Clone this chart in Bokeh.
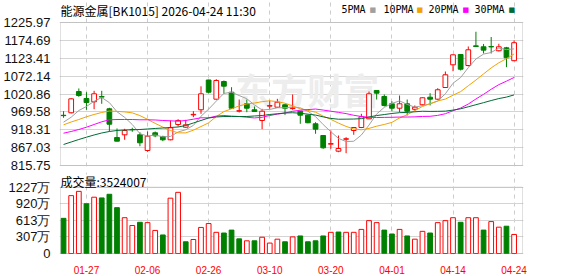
import pandas as pd
from bokeh.plotting import figure
from bokeh.layouts import column
from bokeh.models import FixedTicker, Label, Range1d, PrintfTickFormatter, BoxAnnotation
from bokeh.embed import file_html
from bokeh.resources import INLINE

# ---------------- data ----------------
dates = ["01-22", "01-23", "01-26", "01-27", "01-28", "01-29", "01-30", "02-02", "02-03", "02-04",
         "02-05", "02-06", "02-09", "02-10", "02-11", "02-12", "02-13", "02-24", "02-25", "02-26",
         "02-27", "03-02", "03-03", "03-04", "03-05", "03-06", "03-09", "03-10", "03-11", "03-12",
         "03-13", "03-16", "03-17", "03-18", "03-19", "03-20", "03-23", "03-24", "03-25", "03-26",
         "03-27", "03-30", "03-31", "04-01", "04-02", "04-03", "04-07", "04-08", "04-09", "04-10",
         "04-13", "04-14", "04-15", "04-16", "04-17", "04-20", "04-21", "04-22", "04-23", "04-24"]

opens = [959.8, 967.0, 1028.0, 1008.0, 998.5, 1013.5, 978.4, 896.0, 903.8, 919.0,
         903.8, 858.8, 909.6, 899.0, 889.5, 933.4, 925.6, 961.0, 975.6, 1061.0,
         1006.0, 1056.7, 1026.0, 971.5, 992.8, 975.6, 944.9, 986.0, 983.0, 990.0,
         979.0, 971.5, 960.1, 935.4, 901.8, 877.0, 856.8, 891.0, 916.2, 924.8,
         949.7, 1031.0, 1013.7, 992.8, 980.1, 992.8, 977.0, 990.0, 1011.7, 1006.0,
         1039.5, 1104.6, 1134.2, 1102.6, 1159.0, 1156.3, 1157.0, 1144.9, 1153.4, 1116.4]
highs = [971.5, 1009.0, 1036.7, 1026.0, 1030.0, 1030.0, 981.3, 922.0, 921.0, 924.0,
         911.3, 913.3, 913.3, 901.0, 945.0, 948.6, 946.9, 971.5, 1043.0, 1062.0,
         1063.3, 1059.6, 1040.4, 1005.0, 1005.0, 985.0, 978.4, 1002.0, 1007.0, 991.0,
         1019.5, 972.0, 961.0, 940.0, 902.5, 916.2, 901.8, 897.0, 925.0, 964.0,
         1028.0, 1032.0, 1019.5, 1000.0, 1016.6, 1005.0, 988.0, 1011.0, 1023.2, 1037.5,
         1085.4, 1134.0, 1135.0, 1157.2, 1199.4, 1164.4, 1184.4, 1165.0, 1156.0, 1174.6]
lows = [952.6, 965.0, 1012.8, 975.5, 977.3, 992.8, 913.3, 885.0, 889.5, 912.4,
        871.1, 855.0, 897.0, 885.5, 888.0, 927.6, 924.0, 954.3, 964.0, 1023.0,
        1005.0, 1021.4, 978.4, 967.8, 968.7, 970.0, 920.0, 978.4, 981.3, 961.2,
        975.6, 935.4, 937.0, 906.7, 863.7, 863.7, 853.9, 851.0, 903.8, 923.0,
        949.0, 1005.0, 985.0, 971.5, 968.7, 959.2, 973.0, 988.0, 988.0, 1004.0,
        1038.0, 1086.3, 1088.3, 1100.0, 1156.0, 1137.0, 1137.0, 1143.0, 1097.8, 1115.0]
closes = [958.8, 1007.0, 1016.6, 996.5, 1021.4, 1012.0, 934.2, 885.5, 916.2, 918.5,
          880.9, 899.8, 901.0, 889.5, 924.0, 944.9, 932.5, 962.5, 1021.4, 1026.0,
          1059.6, 1043.3, 980.1, 973.0, 980.1, 970.7, 971.5, 987.5, 997.4, 980.1,
          981.0, 960.1, 938.3, 920.0, 866.5, 878.5, 864.5, 892.5, 924.8, 955.5,
          1021.4, 1023.2, 988.0, 980.1, 992.8, 971.5, 982.8, 1010.0, 1006.0, 1033.0,
          1076.0, 1133.3, 1092.0, 1147.7, 1157.0, 1146.7, 1156.0, 1156.3, 1124.7, 1168.0]
# volume in 万 (10k shares)
volumes = [650, 1070, 1149, 920, 1041, 1028, 1095, 848, 662, 518,
           577, 571, 427, 343, 1023, 1131, 217, 259, 482, 554,
           392, 379, 433, 271, 235, 235, 301, 193, 265, 217,
           307, 325, 217, 235, 325, 392, 397, 392, 392, 446,
           608, 571, 433, 361, 446, 325, 265, 410, 379, 571,
           608, 662, 577, 662, 662, 433, 590, 487, 505, 352.4]

# moving-average values before enough closes are on screen
ma5_head = [940.0, 954.3, 973.5, 985.0]
ma10_head = [932.5, 940.5, 947.7, 955.5, 962.1, 967.8, 972.0, 971.0, 969.5]
ma20_head = [908.4, 913.3, 919.0, 925.6, 933.4, 941.1, 946.9, 947.7, 947.7, 947.7,
             946.9, 946.9, 946.3, 944.9, 944.0, 942.8, 944.9, 948.6, 952.6]
ma30_head = [876.0, 883.2, 890.3, 897.0, 903.3, 909.0, 913.3, 916.2, 917.6, 918.2,
             919.0, 920.5, 922.0, 923.3, 924.8, 926.2, 930.5, 937.7, 944.9, 952.1,
             955.0, 956.3, 956.3, 956.3, 956.3, 957.8, 959.2, 962.1, 964.1]

price_ticks = [815.75, 867.03, 918.31, 969.58, 1020.86, 1072.14, 1123.41, 1174.69, 1225.97]
vol_ticks = [0, 306.75, 613.5, 920.25, 1227]
vol_tick_labels = ["0", "307万", "613万", "920万", "1227万"]
date_tick_idx = [3, 11, 19, 27, 35, 43, 51, 59]
title_text = "能源金属[BK1015] 2026-04-24 11:30"
vol_title = "成交量:3524007"
ma_names = ["5PMA", "10PMA", "20PMA", "30PMA"]

# ---------------- derived ----------------
RED, GREEN = "#ff0000", "#008000"
MA_COLORS = ["#a0a0a0", "#f2a200", "#ff00ff", "#006a35"]
n = len(closes)
idx = list(range(n))
cs = pd.Series(closes)


def ma(period, head):
    vals = cs.rolling(period).mean().tolist()
    return list(head) + vals[len(head):]


mas = [ma(5, ma5_head), ma(10, ma10_head), ma(20, ma20_head), ma(30, ma30_head)]

up = [c >= o for o, c in zip(opens, closes)]
col = [RED if u else GREEN for u in up]
fill = ["white" if u else GREEN for u in up]
top = [max(o, c) for o, c in zip(opens, closes)]
bot = [min(o, c) for o, c in zip(opens, closes)]

vup = [closes[0] >= opens[0]] + [closes[i] >= closes[i - 1] for i in range(1, n)]
vcol = [RED if u else GREEN for u in vup]
vfill = ["white" if u else GREEN for u in vup]

# ---------------- geometry ----------------
X0, X1 = -0.4, 60.1            # border of the plotting boxes (in bar units)
PX_PER_BAR = 465 / (X1 - X0)
PAD = 1 / PX_PER_BAR           # one pixel of slack so borders are not clipped
x_range = Range1d(X0 - PAD, X1 + PAD)

P_LO, P_HI = price_ticks[0], price_ticks[-1]
P_PER_PX = (P_HI - P_LO) / 143
p_range = Range1d(P_LO - P_PER_PX, P_LO + 165 * P_PER_PX)

V_LO, V_HI = vol_ticks[0], vol_ticks[-1]
V_PER_PX = (V_HI - V_LO) / 68
v_range = Range1d(V_LO - V_PER_PX, V_LO + 83 * V_PER_PX)

BORDER = "#999999"

# ---------------- price panel ----------------
p = figure(width=578, height=172, x_range=x_range, y_range=p_range,
           output_backend="svg", toolbar_location=None,
           min_border_left=56, min_border_right=55,
           min_border_top=0, min_border_bottom=6)
p.outline_line_color = None
p.xaxis.visible = False
p.xgrid.ticker = FixedTicker(ticks=date_tick_idx)
p.xgrid.grid_line_color = "#cccccc"
p.xgrid.grid_line_dash = "4 4"
p.xgrid.bounds = (P_LO, P_HI)
p.ygrid.ticker = FixedTicker(ticks=price_ticks)
p.ygrid.grid_line_color = "#d4d4d4"
p.ygrid.bounds = (X0, X1)
p.yaxis.ticker = FixedTicker(ticks=price_ticks)
p.yaxis.formatter = PrintfTickFormatter(format="%.2f")
ax = p.yaxis[0]
ax.axis_line_color = None
ax.major_tick_line_color = None
ax.minor_tick_line_color = None
ax.major_label_standoff = 3
ax.major_label_text_font = "Liberation Sans"
ax.major_label_text_font_size = "13px"
ax.major_label_text_color = "#111111"

wm = Label(x=22.5, y=1036, text="东方财富", text_font="Noto Sans CJK SC",
           text_font_size="36px", text_font_style="bold", text_color="#ededed",
           text_baseline="middle", text_align="left", level="underlay")
p.add_layout(wm)

p.segment(x0=idx, y0=lows, x1=idx, y1=highs, line_color=col, line_width=1)
p.vbar(x=idx, width=0.62, top=top, bottom=bot, fill_color=fill, line_color=col, line_width=1)
for m, c in zip(mas, MA_COLORS):
    p.line(idx, m, line_color=c, line_width=1)

p.add_layout(BoxAnnotation(left=X0, right=X1, bottom=P_LO, top=P_HI, fill_color=None,
                           line_color=BORDER, line_width=1))

p.add_layout(Label(x=1, y=156, x_units="screen", y_units="screen", text=title_text,
                   text_font="Noto Sans CJK SC", text_font_size="12px", text_color="#000000",
                   text_baseline="middle"))
leg_x = [282, 324, 369, 415]
sq_x = [310, 357, 403, 449]
for name, c, lx, sx in zip(ma_names, MA_COLORS, leg_x, sq_x):
    p.add_layout(Label(x=lx, y=157, x_units="screen", y_units="screen", text=name,
                       text_font="DejaVu Sans Mono", text_font_size="10px", text_color="#000000",
                       text_baseline="middle"))
    p.add_layout(Label(x=sx, y=157, x_units="screen", y_units="screen", text="■",
                       text_font="DejaVu Sans", text_font_size="7px", text_color=c,
                       text_baseline="middle"))

# ---------------- volume panel ----------------
v = figure(width=578, height=104, x_range=x_range, y_range=v_range,
           output_backend="svg", toolbar_location=None,
           min_border_left=56, min_border_right=55,
           min_border_top=0, min_border_bottom=20)
v.outline_line_color = None
v.xaxis.ticker = FixedTicker(ticks=date_tick_idx)
v.xaxis.major_label_overrides = {i: dates[i] for i in date_tick_idx}
v.xgrid.ticker = FixedTicker(ticks=date_tick_idx)
v.xgrid.grid_line_color = "#cccccc"
v.xgrid.grid_line_dash = "4 4"
v.xgrid.bounds = (V_LO, V_HI)
v.yaxis.ticker = FixedTicker(ticks=vol_ticks)
v.ygrid.ticker = FixedTicker(ticks=vol_ticks)
v.ygrid.grid_line_color = "#d4d4d4"
v.ygrid.bounds = (X0, X1)
v.yaxis.major_label_overrides = {t: lab for t, lab in zip(vol_ticks, vol_tick_labels)}
for a in [v.xaxis[0], v.yaxis[0]]:
    a.axis_line_color = None
    a.major_tick_line_color = None
    a.minor_tick_line_color = None
v.yaxis.major_label_standoff = 3
v.yaxis.major_label_text_font = "Liberation Sans"
v.yaxis.major_label_text_font_size = "13px"
v.yaxis.major_label_text_color = "#111111"
v.xaxis.major_label_standoff = 5
v.xaxis.major_label_text_font = "Liberation Sans"
v.xaxis.major_label_text_font_size = "10px"
v.xaxis.major_label_text_color = RED

v.vbar(x=idx, width=0.62, top=volumes, bottom=0, fill_color=vfill, line_color=vcol, line_width=1)
v.add_layout(BoxAnnotation(left=X0, right=X1, bottom=V_LO, top=V_HI, fill_color=None,
                           line_color=BORDER, line_width=1))
v.add_layout(Label(x=1, y=73, x_units="screen", y_units="screen", text=vol_title,
                   text_font="Noto Sans CJK SC", text_font_size="12px", text_color="#000000",
                   text_baseline="middle"))

layout = column(p, v, spacing=0)
open("out.html", "w").write(file_html(layout, INLINE))
